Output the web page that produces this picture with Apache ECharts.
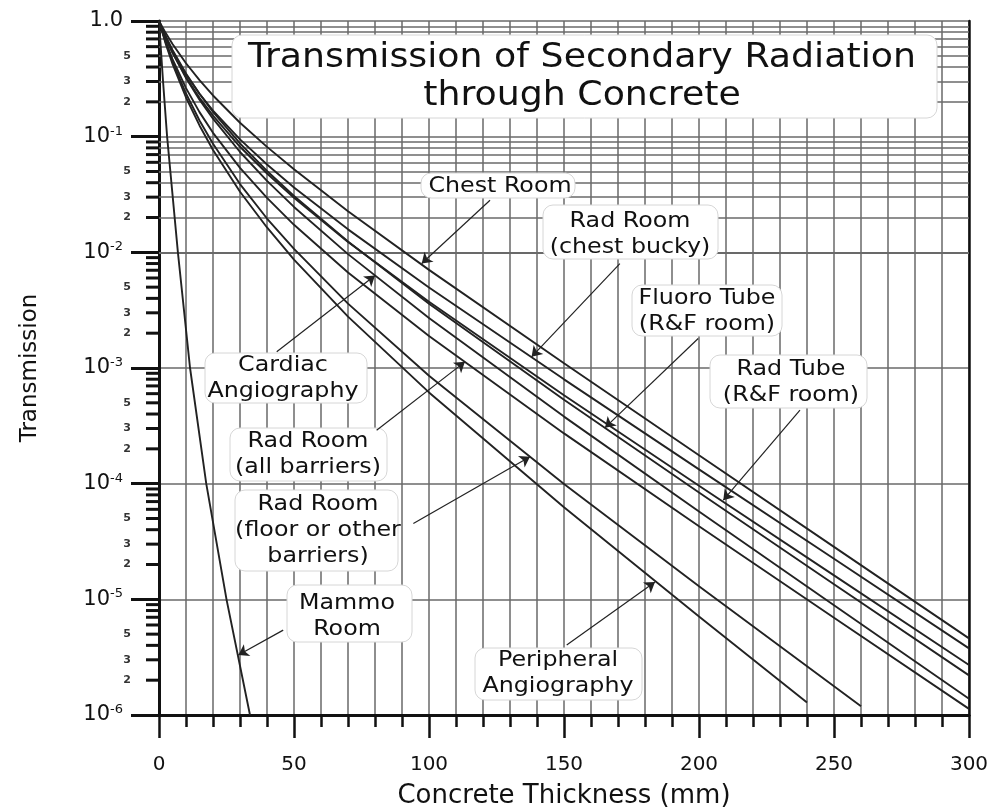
<!DOCTYPE html>
<html>
<head>
<meta charset="utf-8">
<title>Transmission of Secondary Radiation through Concrete</title>
<script src="https://cdn.jsdelivr.net/npm/echarts@6/dist/echarts.min.js"></script>
<style>
  html, body { margin: 0; padding: 0; background: #fff; }
  #chart { width: 992px; height: 807px; }
</style>
</head>
<body>
<div id="chart"></div>
<script>
// concrete thickness (mm) for each curve
var thickness = [0, 2.5, 5, 10, 15, 20, 30, 40, 50, 70, 100, 150, 200, 250, 300]
var thicknessFloor = [0, 2.5, 5, 10, 15, 20, 30, 40, 50, 70, 100, 150, 200, 250, 260]
var thicknessPeripheral = [0, 2.5, 5, 10, 15, 20, 30, 40, 50, 70, 100, 150, 200, 240]
var thicknessMammo = [0, 1.5, 3, 7, 11.5, 17.5, 25, 33.7]

// transmission
var chestRoom = [1, 0.786, 0.632, 0.431, 0.308, 0.227, 0.132, 0.0816, 0.0522, 0.0227, 7.05e-3, 1.10e-3, 1.76e-4, 2.84e-5, 4.60e-6]
var radRoomBucky = [1, 0.721, 0.547, 0.345, 0.235, 0.168, 0.0947, 0.0574, 0.0364, 0.0158, 4.97e-3, 7.98e-4, 1.33e-4, 2.24e-5, 3.77e-6]
var fluoroTube = [1, 0.738, 0.563, 0.352, 0.235, 0.164, 0.0875, 0.0505, 0.0307, 0.0124, 3.60e-3, 5.32e-4, 8.39e-5, 1.35e-5, 2.20e-6]
var radTube = [1, 0.713, 0.533, 0.327, 0.217, 0.152, 0.0818, 0.0480, 0.0296, 0.0123, 3.74e-3, 5.82e-4, 9.59e-5, 1.61e-5, 2.71e-6]
var cardiacAngio = [1, 0.715, 0.533, 0.321, 0.209, 0.143, 0.0737, 0.0415, 0.0247, 9.65e-3, 2.71e-3, 3.80e-4, 5.74e-5, 8.9e-6, 1.38e-6]
var radRoomAll = [1, 0.664, 0.469, 0.263, 0.163, 0.108, 0.0537, 0.0296, 0.0173, 6.70e-3, 1.89e-3, 2.72e-4, 4.28e-5, 6.93e-6, 1.13e-6]
var radRoomFloor = [1, 0.651, 0.447, 0.236, 0.138, 0.0867, 0.0389, 0.0196, 0.0107, 3.60e-3, 8.58e-4, 9.94e-5, 1.30e-5, 1.77e-6, 1.19e-6]
var peripheralAngio = [1, 0.633, 0.426, 0.218, 0.125, 0.0767, 0.0334, 0.0164, 8.66e-3, 2.78e-3, 6.15e-4, 6.25e-5, 7.1e-6, 1.28e-6]
var mammoRoom = [1, 0.3, 0.1, 0.01, 1e-3, 1e-4, 1e-5, 1e-6]

// minor decade multipliers and the ones that get a small label
var minorSteps = [2, 3, 4, 5, 6, 7, 8, 9]
var minorLabelled = [2, 3, 5]
var decadeExps = [-6, -5, -4, -3, -2, -1]

var FONT = 'DejaVu Sans'
var gridColor = '#6a6a6a'
var curveColor = '#222'

var curves = [
  {name: 'Chest Room', x: thickness, y: chestRoom},
  {name: 'Rad Room (chest bucky)', x: thickness, y: radRoomBucky},
  {name: 'Fluoro Tube (R&F room)', x: thickness, y: fluoroTube},
  {name: 'Rad Tube (R&F room)', x: thickness, y: radTube},
  {name: 'Cardiac Angiography', x: thickness, y: cardiacAngio},
  {name: 'Rad Room (all barriers)', x: thickness, y: radRoomAll},
  {name: 'Rad Room (floor or other barriers)', x: thicknessFloor, y: radRoomFloor},
  {name: 'Peripheral Angiography', x: thicknessPeripheral, y: peripheralAngio},
  {name: 'Mammo Room', x: thicknessMammo, y: mammoRoom}
]

// arrows from label box to curve, in data units
var arrows = [
  {from: [122.6, 2.82e-2], to: [97.3, 8.0e-3]},
  {from: [170.7, 8.0e-3], to: [138.0, 1.25e-3]},
  {from: [199.7, 1.80e-3], to: [165.2, 3.05e-4]},
  {from: [237.4, 4.32e-4], to: [209.0, 7.2e-5]},
  {from: [43.6, 1.38e-3], to: [80.0, 6.3e-3]},
  {from: [80.6, 2.9e-4], to: [113.3, 1.13e-3]},
  {from: [94.2, 4.53e-5], to: [137.4, 1.71e-4]},
  {from: [46.0, 5.42e-6], to: [29.4, 3.3e-6]},
  {from: [151.0, 4.02e-6], to: [183.7, 1.41e-5]}
]

// label boxes: [left, top, right, bottom], text centre
var boxes = [
  {lines: ['Transmission of Secondary Radiation', 'through Concrete'], box: [232, 35, 937, 118], c: [582, 77], size: 33, lh: 38, sx: 1.1},
  {lines: ['Chest Room'], box: [421, 173, 575, 198], c: [500, 186]},
  {lines: ['Rad Room', '(chest bucky)'], box: [543, 205, 718, 259], c: [630, 234]},
  {lines: ['Fluoro Tube', '(R&F room)'], box: [632, 285, 782, 336], c: [707, 311]},
  {lines: ['Rad Tube', '(R&F room)'], box: [710, 355, 867, 408], c: [791, 382]},
  {lines: ['Cardiac', 'Angiography'], box: [205, 353, 367, 403], c: [283, 378]},
  {lines: ['Rad Room', '(all barriers)'], box: [230, 428, 387, 481], c: [308, 454]},
  {lines: ['Rad Room', '(floor or other', 'barriers)'], box: [235, 490, 398, 571], c: [318, 530]},
  {lines: ['Mammo', 'Room'], box: [287, 585, 412, 642], c: [347, 616]},
  {lines: ['Peripheral', 'Angiography'], box: [475, 648, 642, 700], c: [558, 673]}
]

function pairs(xs, ys) {
  var ret = []
  for (var i = 0; i < ys.length; i++) {
    ret.push([xs[i], ys[i]])
  }
  return ret
}

var minorValues = []
decadeExps.forEach(function(e) {
  minorSteps.forEach(function(m) {
    minorValues.push(m * Math.pow(10, e))
  })
})

var chart = echarts.init(document.getElementById('chart'))

var series = curves.map(function(c) {
  return {
    name: c.name,
    type: 'line',
    data: pairs(c.x, c.y),
    smooth: false,
    showSymbol: false,
    silent: true,
    z: 4,
    lineStyle: {color: curveColor, width: 1.9}
  }
})

// minor horizontal grid lines
series.unshift({
  type: 'line',
  data: [],
  silent: true,
  z: 1,
  markLine: {
    silent: true,
    animation: false,
    z: 1,
    symbol: ['none', 'none'],
    label: {show: false},
    lineStyle: {color: gridColor, width: 1.5, type: 'solid'},
    data: minorValues.map(function(v) { return {yAxis: v} })
  }
})

// arrows
series.push({
  type: 'line',
  data: [],
  silent: true,
  z: 5,
  markLine: {
    silent: true,
    animation: false,
    z: 5,
    symbol: ['none', 'arrow'],
    symbolSize: 10,
    label: {show: false},
    lineStyle: {color: '#222', width: 1.2, type: 'solid'},
    data: arrows.map(function(a) { return [{coord: a.from}, {coord: a.to}] })
  }
})

chart.setOption({
  animation: false,
  textStyle: {fontFamily: FONT},
  grid: {left: 159, right: 23, top: 21, bottom: 92, containLabel: false, outerBoundsMode: 'none'},
  xAxis: {
    type: 'value',
    min: 0,
    max: 300,
    interval: 50,
    name: 'Concrete Thickness (mm)',
    nameLocation: 'middle',
    nameGap: 68,
    nameTextStyle: {fontSize: 26, color: '#111', fontFamily: FONT},
    axisLine: {show: true, onZero: false, lineStyle: {color: '#111', width: 3}},
    axisTick: {show: true, length: 23, lineStyle: {color: '#111', width: 2.5}},
    minorTick: {show: true, splitNumber: 5, length: 12, lineStyle: {color: '#111', width: 2.5}},
    splitLine: {show: true, lineStyle: {color: gridColor, width: 1.5}},
    minorSplitLine: {show: true, lineStyle: {color: gridColor, width: 1.5}},
    axisLabel: {margin: 40, fontSize: 20, color: '#111', fontFamily: FONT}
  },
  yAxis: [{
    type: 'log',
    logBase: 10,
    min: 1e-6,
    max: 1,
    interval: 1,
    splitNumber: 6,
    name: 'Transmission',
    nameLocation: 'middle',
    nameGap: 117,
    nameRotate: 90,
    nameTextStyle: {fontSize: 23, color: '#111', fontFamily: FONT},
    axisLine: {show: true, onZero: false, lineStyle: {color: '#111', width: 3}},
    axisTick: {show: true, length: 28, lineStyle: {color: '#111', width: 3}},
    minorTick: {show: false},
    minorSplitLine: {show: false},
    splitLine: {show: true, lineStyle: {color: gridColor, width: 1.5}},
    axisLabel: {
      margin: 36,
      color: '#111',
      formatter: function(v) {
        var e = Math.round(Math.log10(v))
        if (e === 0) {
          return '{b|1.0}'
        }
        return '{b|10}{s|' + e + '}'
      },
      rich: {
        b: {fontSize: 21, lineHeight: 24, fontFamily: FONT, color: '#111'},
        s: {fontSize: 13, lineHeight: 14, verticalAlign: 'top', fontFamily: FONT, color: '#111'}
      }
    }
  }, {
    type: 'log',
    logBase: 10,
    min: 1e-6,
    max: 1,
    position: 'right',
    axisLine: {show: true, onZero: false, lineStyle: {color: '#111', width: 2.5}},
    axisTick: {show: false},
    axisLabel: {show: false},
    splitLine: {show: false}
  }],
  series: series
})

// minor ticks, small labels and annotation boxes
var left = chart.convertToPixel({xAxisIndex: 0}, 0)
var elements = []
minorValues.forEach(function(v) {
  var y = chart.convertToPixel({yAxisIndex: 0}, v)
  elements.push({
    type: 'line',
    silent: true,
    z: 6,
    shape: {x1: left - 13, y1: y, x2: left, y2: y},
    style: {stroke: '#111', lineWidth: 3}
  })
  var m = Math.round(v / Math.pow(10, Math.floor(Math.log10(v) + 1e-9)))
  if (minorLabelled.indexOf(m) >= 0) {
    elements.push({
      type: 'text',
      silent: true,
      z: 6,
      x: left - 28,
      y: y,
      style: {
        text: String(m), fontSize: 11, fontWeight: 'bold', fontFamily: FONT, fill: '#333',
        align: 'right', textAlign: 'right', verticalAlign: 'middle', textVerticalAlign: 'middle'
      }
    })
  }
})

boxes.forEach(function(b) {
  elements.push({
    type: 'rect',
    silent: true,
    z: 3,
    shape: {x: b.box[0], y: b.box[1], width: b.box[2] - b.box[0], height: b.box[3] - b.box[1], r: 10},
    style: {fill: '#fff', stroke: '#d6d6d6', lineWidth: 1}
  })
  elements.push({
    type: 'text',
    silent: true,
    z: 3,
    x: b.c[0],
    y: b.c[1],
    scaleX: b.sx || 1.08,
    style: {
      text: b.lines.join('\n'),
      fontSize: b.size || 22,
      lineHeight: b.lh || 26,
      fontFamily: FONT,
      fill: '#111',
      align: 'center', textAlign: 'center', verticalAlign: 'middle', textVerticalAlign: 'middle'
    }
  })
})

chart.setOption({graphic: {elements: elements}})
</script>
</body>
</html>
